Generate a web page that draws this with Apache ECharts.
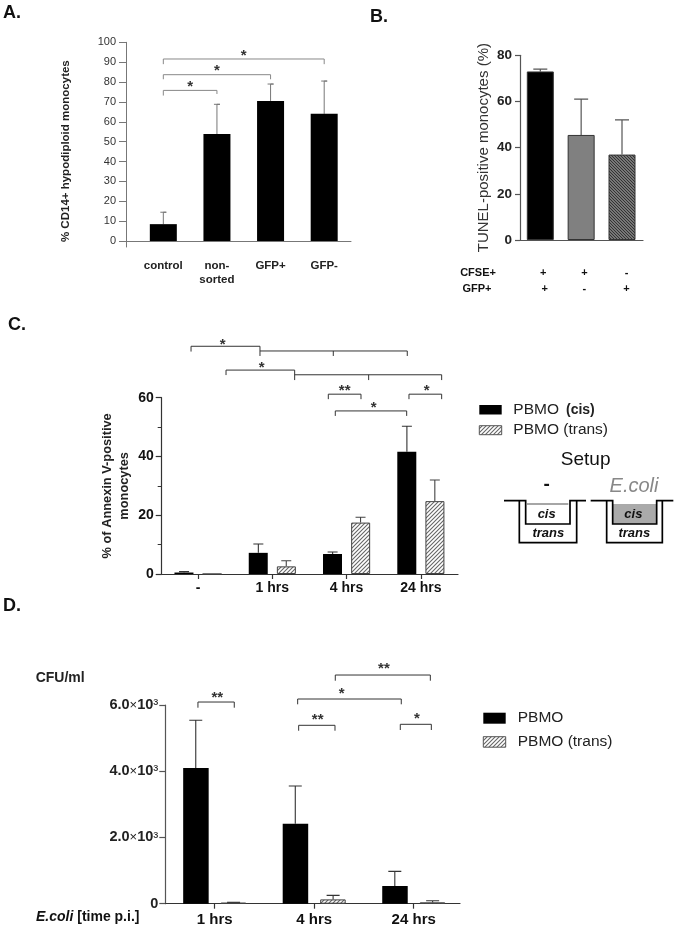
<!DOCTYPE html>
<html><head><meta charset="utf-8">
<style>html,body{margin:0;padding:0;background:#fff}#c{width:678px;height:928px;filter:blur(0.4px)}</style>
<script src="https://cdn.jsdelivr.net/npm/echarts@6/dist/echarts.min.js"></script>
</head><body><div id="c"></div>
<script>
// ---------- Panel A
const aCats = ['control', 'non-\nsorted', 'GFP+', 'GFP-'];
const aMean = [8.5, 53.8, 70.5, 64];
const aUpper = [14.5, 68.8, 79, 80.5];
const aTicks = [0, 10, 20, 30, 40, 50, 60, 70, 80, 90, 100];
const aBrackets = [
  [[0, 73.2], [0, 75.8], [1, 75.8], [1, 74]],
  [[0, 81.4], [0, 83.7], [2, 83.7], [2, 81.4]],
  [[0, 89], [0, 91.6], [3, 91.6], [3, 89]]
];
const aStars = [[0.5, 78.5, '*'], [1, 86.4, '*'], [1.5, 94.3, '*']];
// ---------- Panel B
const bMean = [73, 45.5, 37];
const bUpper = [74, 61, 52];
const bCfse = ['+', '+', '-'];
const bGfp = ['+', '-', '+'];
// ---------- Panel C
const cCats = ['-', '1 hrs', '4 hrs', '24 hrs'];
const cCis = [0.5, 7.2, 6.8, 41.6];
const cCisUpper = [0.8, 10.2, 7.5, 50.3];
const cTrans = [0, 2.6, 17.5, 24.8];
const cTransUpper = [0, 4.5, 19.3, 32];
const cBrackets = [
  [[-0.094, 75.7], [-0.094, 77.5], [0.834, 77.5], [0.834, 74.2]],
  [[0.834, 75.9], [2.817, 75.9], [2.817, 74.2]],
  [[1.821, 75.9], [1.821, 74.2]],
  [[0.377, 67.7], [0.377, 69.4], [1.301, 69.4], [1.301, 66]],
  [[1.301, 67.8], [3.28, 67.8], [3.28, 66]],
  [[2.297, 67.8], [2.297, 66]],
  [[1.754, 59.5], [1.754, 61.2], [2.194, 61.2], [2.194, 59.5]],
  [[2.84, 59.5], [2.84, 61.2], [3.28, 61.2], [3.28, 59.5]],
  [[1.848, 53.8], [1.848, 55.5], [2.809, 55.5], [2.809, 53.8]]
];
const cStars = [[0.332, 78.7, '*'], [0.857, 71, '*'], [1.974, 62.9, '**'], [3.078, 62.9, '*'], [2.365, 57.1, '*']];
// ---------- Panel D
const dCats = ['1 hrs', '4 hrs', '24 hrs'];
const dPbmo = [4100, 2417, 534];
const dPbmoUpper = [5540, 3555, 977];
const dTrans = [30, 130, 40];
const dTransUpper = [40, 250, 90];
const dBrackets = [
  [[-0.168, 5918], [-0.168, 6090], [0.197, 6090], [0.197, 5918]],
  [[1.212, 6733], [1.212, 6905], [2.167, 6905], [2.167, 6733]],
  [[0.834, 6021], [0.834, 6181], [1.875, 6181], [1.875, 6021]],
  [[0.844, 5223], [0.844, 5387], [1.209, 5387], [1.209, 5223]],
  [[1.865, 5245], [1.865, 5417], [2.177, 5417], [2.177, 5245]]
];
const dStars = [[0.026, 6271, '**'], [1.701, 7156, '**'], [1.276, 6383, '*'], [1.035, 5598, '**'], [2.032, 5628, '*']];
const dTickLabels = {0: '{b|0}', 2000: '{b|2.0}{x|×}{b|10}{s|³}', 4000: '{b|4.0}{x|×}{b|10}{s|³}', 6000: '{b|6.0}{x|×}{b|10}{s|³}'};

const FONT = '"Liberation Sans", Arial, sans-serif';
function hatch(bg, fg, s, lw, back) {
  const c = document.createElement('canvas'); c.width = c.height = s;
  const g = c.getContext('2d'); g.fillStyle = bg; g.fillRect(0, 0, s, s);
  g.strokeStyle = fg; g.lineWidth = lw; g.beginPath();
  if (back) { g.moveTo(-1, -1); g.lineTo(s + 1, s + 1); g.moveTo(s - 1, -1); g.lineTo(s + 1, 1); g.moveTo(-1, s - 1); g.lineTo(1, s + 1); }
  else { g.moveTo(-1, s + 1); g.lineTo(s + 1, -1); g.moveTo(-1, 1); g.lineTo(1, -1); g.moveTo(s - 1, s + 1); g.lineTo(s + 1, s - 1); }
  g.stroke();
  return {image: c, repeat: 'repeat'};
}
const lightHatch = hatch('#fff', '#666', 4, 1.1, false);
const darkHatch = hatch('#777', '#333', 3, 1, true);

function polySeries(ax, paths, color, width) {
  return {type: 'custom', xAxisIndex: ax, yAxisIndex: ax, silent: true, clip: false, z: 5,
    data: paths.map(p => p[0]),
    renderItem: (params, api) => ({type: 'polyline', silent: true,
      shape: {points: paths[params.dataIndex].map(p => api.coord(p))},
      style: {stroke: color, lineWidth: width, fill: null}})};
}
function errSeries(ax, xs, lows, ups, cap, color, width) {
  const data = xs.map((x, i) => [x, ups[i]]);
  return {type: 'custom', xAxisIndex: ax, yAxisIndex: ax, silent: true, clip: false, z: 1, data,
    renderItem: (params, api) => {
      const i = params.dataIndex;
      const a = api.coord([xs[i], lows[i]]), b = api.coord([xs[i], ups[i]]);
      return {type: 'polyline', silent: true,
        shape: {points: [[b[0] - cap / 2, b[1]], [b[0] + cap / 2, b[1]], [b[0], b[1]], a]},
        style: {stroke: color, lineWidth: width, fill: null}};
    }};
}
function textSeries(ax, items, font, color, dy) {
  return {type: 'custom', xAxisIndex: ax, yAxisIndex: ax, silent: true, clip: false, z: 6,
    data: items.map(t => [t[0], t[1]]),
    renderItem: (params, api) => {
      const t = items[params.dataIndex], p = api.coord([t[0], t[1]]);
      return {type: 'text', silent: true, style: {text: t[2], x: p[0], y: p[1] + (dy || 0), font, fill: color, align: 'center', verticalAlign: 'middle'}};
    }};
}
const idx = a => a.map((_, i) => i);
const pairs = (xs, ys) => xs.map((x, i) => [x, ys[i]]);
const cOff = 0.188, dOff = 0.19;

const grids = [
  {left: 126, top: 42.3, width: 225, height: 204.7},
  {left: 520, top: 55.3, width: 123, height: 184.7},
  {left: 161.7, top: 397.7, width: 296.3, height: 176.3},
  {left: 165.3, top: 705, width: 294.7, height: 198.7}
];
const boldLabel = (size, color) => ({fontFamily: FONT, fontWeight: 'bold', fontSize: size, color});

const option = {
  animation: false,
  grid: grids,
  xAxis: [
    {gridIndex: 0, type: 'value', min: -0.696, max: 3.5, splitLine: {show: false},
      axisLine: {onZero: true, lineStyle: {color: '#777', width: 1}}, axisTick: {show: false},
      axisLabel: {customValues: idx(aCats), formatter: v => aCats[v], margin: 12, lineHeight: 14, ...boldLabel(11.5, '#222')}},
    {gridIndex: 1, type: 'value', min: -0.497, max: 2.514, splitLine: {show: false},
      axisLine: {lineStyle: {color: '#555', width: 1.2}}, axisTick: {show: false}, axisLabel: {show: false}},
    {gridIndex: 2, type: 'value', min: -0.489, max: 3.5, splitLine: {show: false},
      axisLine: {lineStyle: {color: '#333', width: 1.2}},
      axisTick: {customValues: idx(cCats), length: 5, lineStyle: {color: '#333', width: 1.2}},
      axisLabel: {customValues: idx(cCats), formatter: v => cCats[v], margin: 7, ...boldLabel(14, '#111')}},
    {gridIndex: 3, type: 'value', min: -0.496, max: 2.465, splitLine: {show: false},
      axisLine: {lineStyle: {color: '#333', width: 1.2}},
      axisTick: {customValues: idx(dCats), length: 5, lineStyle: {color: '#333', width: 1.2}},
      axisLabel: {customValues: idx(dCats), formatter: v => dCats[v], margin: 9, ...boldLabel(15, '#111')}}
  ],
  yAxis: [
    {gridIndex: 0, type: 'value', min: -3, max: 100, splitLine: {show: false},
      axisLine: {show: true, onZero: false, lineStyle: {color: '#777', width: 1}},
      axisTick: {show: true, length: 7, customValues: aTicks, lineStyle: {color: '#777'}},
      axisLabel: {customValues: aTicks, margin: 10, fontFamily: FONT, fontSize: 11, color: '#333'},
      name: '% CD14+ hypodiploid monocytes', nameLocation: 'middle', nameGap: 54, nameRotate: 90,
      nameTextStyle: {...boldLabel(11.5, '#222'), padding: [0, 13, 0, 0]}},
    {gridIndex: 1, type: 'value', min: 0, max: 80, interval: 20, splitLine: {show: false},
      axisLine: {show: true, onZero: false, lineStyle: {color: '#555', width: 1.2}},
      axisTick: {show: true, length: 5, lineStyle: {color: '#555', width: 1.2}},
      axisLabel: {margin: 8, ...boldLabel(13.5, '#222')},
      name: 'TUNEL-positive monocytes (%)', nameLocation: 'middle', nameGap: 29, nameRotate: 90,
      nameTextStyle: {fontFamily: FONT, fontSize: 15, color: '#333'}},
    {gridIndex: 2, type: 'value', min: 0, max: 60, interval: 20, splitLine: {show: false},
      axisLine: {show: true, onZero: false, lineStyle: {color: '#333', width: 1.2}},
      axisTick: {show: true, length: 6, lineStyle: {color: '#333', width: 1.2}},
      minorTick: {show: true, splitNumber: 2, length: 4, lineStyle: {color: '#333', width: 1}},
      axisLabel: {margin: 8, ...boldLabel(14, '#111')},
      name: '% of Annexin V-positive\nmonocytes', nameLocation: 'middle', nameGap: 29, nameRotate: 90,
      nameTextStyle: {...boldLabel(12.8, '#222'), lineHeight: 17}},
    {gridIndex: 3, type: 'value', min: 0, max: 6000, interval: 2000, splitLine: {show: false},
      axisLine: {show: true, onZero: false, lineStyle: {color: '#555', width: 1.2}},
      axisTick: {show: true, length: 6, lineStyle: {color: '#555', width: 1.2}},
      axisLabel: {margin: 7, formatter: v => dTickLabels[v], rich: {
        b: {...boldLabel(14.5, '#222')},
        x: {fontFamily: FONT, fontSize: 13, color: '#222'},
        s: {fontFamily: FONT, fontSize: 15, color: '#222'}}}}
  ],
  series: [
    // A
    {type: 'bar', xAxisIndex: 0, yAxisIndex: 0, barWidth: 27, z: 2, data: pairs(idx(aMean), aMean), itemStyle: {color: '#000'}, silent: true},
    errSeries(0, idx(aMean), aMean, aUpper, 6, '#777', 1),
    polySeries(0, aBrackets, '#888', 1),
    textSeries(0, aStars, 'bold 15px ' + FONT, '#333', 2),
    // B
    {type: 'bar', xAxisIndex: 1, yAxisIndex: 1, barWidth: 27, z: 2, silent: true,
      data: bMean.map((v, i) => ({value: [i, v], itemStyle: {color: ['#000', '#808080', darkHatch][i], borderColor: '#333', borderWidth: 1}}))},
    errSeries(1, idx(bMean), bMean, bUpper, 14, '#555', 1.2),
    textSeries(1, [...bCfse.map((t, i) => [[0.073, 1.08, 2.11][i], -14.3, t]), [-1.525, -14.3, 'CFSE+'],
                   ...bGfp.map((t, i) => [[0.11, 1.08, 2.11][i], -21.2, t]), [-1.55, -21.2, 'GFP+']], 'bold 11px ' + FONT, '#111', 0),
    // C
    {type: 'bar', name: 'PBMO (cis)', xAxisIndex: 2, yAxisIndex: 2, barWidth: 19, barGap: '48%', z: 2, silent: true, data: pairs(idx(cCis), cCis), itemStyle: {color: '#000'}},
    {type: 'bar', name: 'PBMO (trans)', xAxisIndex: 2, yAxisIndex: 2, barWidth: 19, barGap: '48%', z: 2, silent: true, data: pairs(idx(cTrans), cTrans), itemStyle: {color: lightHatch, borderColor: '#444', borderWidth: 1}},
    errSeries(2, idx(cCis).map(i => i - cOff), cCis, cCisUpper, 10, '#333', 1.1),
    errSeries(2, idx(cTrans).slice(1).map(i => i + cOff), cTrans.slice(1), cTransUpper.slice(1), 10, '#444', 1.1),
    polySeries(2, cBrackets, '#333', 1),
    textSeries(2, cStars, 'bold 15px ' + FONT, '#333', 2),
    // D
    {type: 'bar', name: 'PBMO', xAxisIndex: 3, yAxisIndex: 3, barWidth: 25.5, barGap: '47%', z: 2, silent: true, data: pairs(idx(dPbmo), dPbmo), itemStyle: {color: '#000'}},
    {type: 'bar', name: 'PBMO (trans)', xAxisIndex: 3, yAxisIndex: 3, barWidth: 25.5, barGap: '47%', z: 2, silent: true, data: pairs(idx(dTrans), dTrans), itemStyle: {color: lightHatch, borderColor: '#444', borderWidth: 1}},
    errSeries(3, idx(dPbmo).map(i => i - dOff), dPbmo, dPbmoUpper, 13, '#333', 1.1),
    errSeries(3, idx(dTrans).map(i => i + dOff), dTrans, dTransUpper, 13, '#333', 1.1),
    polySeries(3, dBrackets, '#333', 1),
    textSeries(3, dStars, 'bold 15px ' + FONT, '#333', 2)
  ],
  graphic: {elements: []}
};

const G = option.graphic.elements;
function txt(x, y, text, font, fill, align) {
  G.push({type: 'text', x, y, silent: true, style: {text, font: font + ' ' + FONT, fill: fill || '#111', align: align || 'left', verticalAlign: 'middle'}});
}
function ln(points, lw) {
  G.push({type: 'polyline', silent: true, shape: {points}, style: {stroke: '#000', lineWidth: lw || 1.7, fill: null}});
}
function box(x, y, w, h, fill) {
  G.push({type: 'rect', silent: true, shape: {x, y, width: w, height: h}, style: {fill, stroke: '#555', lineWidth: fill === '#000' ? 0 : 1}});
}
txt(3, 13, 'A.', 'bold 18px'); txt(370, 17, 'B.', 'bold 18px'); txt(8, 325, 'C.', 'bold 18px'); txt(3, 606, 'D.', 'bold 18px');
// legends
box(479.3, 405, 22.4, 9.5, '#000'); box(479.3, 425.7, 22.4, 9, lightHatch);
txt(513.3, 410, 'PBMO', '15.5px', '#222');
txt(566, 410, '(cis)', 'bold 14px', '#222');
txt(513.3, 430, 'PBMO (trans)', '15.5px', '#222');
box(483.3, 712.7, 22.4, 11, '#000'); box(483.3, 736.7, 22.4, 10.5, lightHatch);
txt(517.7, 718, 'PBMO', '15.5px', '#222');
txt(517.7, 741.7, 'PBMO (trans)', '15.5px', '#222');
txt(35.7, 678, 'CFU/ml', 'bold 14px', '#222');
G.push({type: 'text', x: 36, y: 917, silent: true, style: {text: '{i|E.coli}{b| [time p.i.]}', verticalAlign: 'middle', rich: {
  i: {font: 'italic bold 14px ' + FONT, fill: '#111'}, b: {font: 'bold 14px ' + FONT, fill: '#111'}}}});
// setup schematic
const zx = v => 460 + v / 3, zy = v => 380 + v / 3;
txt(zx(377), zy(240), 'Setup', '19px', '#111', 'center');
txt(zx(260), zy(313), '-', 'bold 19px', '#111', 'center');
txt(zx(522), zy(320), 'E.coli', 'italic 20px', '#888', 'center');
G.push({type: 'rect', silent: true, shape: {x: zx(458), y: zy(372), width: 44, height: 20}, style: {fill: '#aaa'}});
ln([[zx(201), zy(372)], [zx(325), zy(372)]], 0.7);
ln([[zx(132), zy(362)], [zx(197), zy(362)], [zx(197), zy(432)], [zx(330), zy(432)], [zx(330), zy(362)], [zx(378), zy(362)]]);
ln([[zx(178), zy(362)], [zx(178), zy(488)], [zx(350), zy(488)], [zx(350), zy(362)]]);
ln([[zx(392), zy(362)], [zx(458), zy(362)], [zx(458), zy(432)], [zx(590), zy(432)], [zx(590), zy(362)], [zx(640), zy(362)]]);
ln([[zx(440), zy(362)], [zx(440), zy(488)], [zx(607), zy(488)], [zx(607), zy(362)]]);
txt(zx(260), zy(402), 'cis', 'italic bold 13px', '#111', 'center');
txt(zx(265), zy(460), 'trans', 'italic bold 13px', '#111', 'center');
txt(zx(520), zy(402), 'cis', 'italic bold 13px', '#111', 'center');
txt(zx(523), zy(460), 'trans', 'italic bold 13px', '#111', 'center');

echarts.init(document.getElementById('c'), null, {renderer: 'canvas'}).setOption(option);
</script></body></html>
